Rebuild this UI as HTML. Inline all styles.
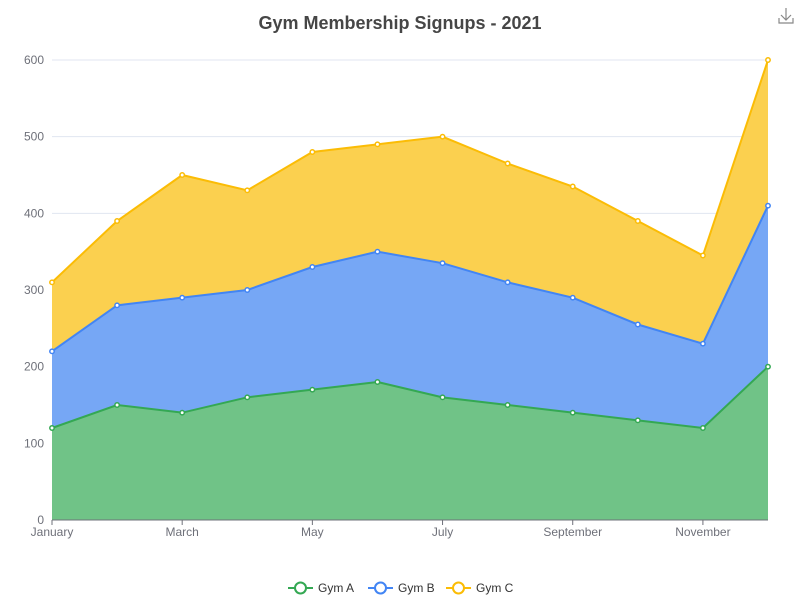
<!DOCTYPE html>
<html><head><meta charset="utf-8"><style>
body{margin:0;background:#fff;font-family:"Liberation Sans",sans-serif;}
</style></head><body>
<svg id="chart" width="800" height="600" xmlns="http://www.w3.org/2000/svg">
<text x="400" y="29" text-anchor="middle" font-size="18" font-weight="bold" fill="#464646">Gym Membership Signups - 2021</text>
<g stroke="#888" fill="none" stroke-width="1.2">
<path d="M786 8 v12 M781 15 l5 5 l5 -5 M779 18 v5 h14 v-5"/>
</g>
<g id="grid"></g><g id="areas"></g><g id="axes"></g><g id="points"></g>
<g id="legend"></g>
</svg>
<script>
const months=["January","February","March","April","May","June","July","August","September","October","November","December"];
const seriesNames=["Gym A","Gym B","Gym C"];
const gymA=[120,150,140,160,170,180,160,150,140,130,120,200];
const gymB=[100,130,150,140,160,170,175,160,150,125,110,210];
const gymC=[90,110,160,130,150,140,165,155,145,135,115,190];
const yTicks=[0,100,200,300,400,500,600];
const NS="http://www.w3.org/2000/svg";
const L=52,R=768,T=60,B=520,YMAX=600;
const x=i=>L+i*(R-L)/(months.length-1);
const y=v=>B-v/YMAX*(B-T);
function mk(tag,attrs,parent){const e=document.createElementNS(NS,tag);for(const k in attrs)e.setAttribute(k,attrs[k]);parent.appendChild(e);return e;}
const grid=document.getElementById('grid'),axes=document.getElementById('axes'),areas=document.getElementById('areas'),pts=document.getElementById('points'),leg=document.getElementById('legend');
yTicks.forEach(t=>{
 if(t>0){const g=mk('line',{x1:L,x2:R,y1:y(t),y2:y(t),stroke:'#e0e6f1'},grid);
 
 }
 const tx=mk('text',{x:L-8,y:y(t)+4,'text-anchor':'end','font-size':12,fill:'#6e7079'},axes);tx.textContent=t;
 
 
});
const ax=mk('line',{x1:L,x2:R,y1:B,y2:B,stroke:'#6e7079'},axes);


months.forEach((m,i)=>{
 if(i%2===0){
 const tk=mk('line',{x1:x(i),x2:x(i),y1:B,y2:B+5,stroke:'#6e7079'},axes);
 
 
 const tx=mk('text',{x:x(i),y:B+16,'text-anchor':'middle','font-size':12,fill:'#6e7079'},axes);tx.textContent=m;
 
 }
});
const data=[gymA,gymB,gymC];
const lines=['#34a853','#4285f4','#fbbc05'];
const fills=['#70c387','#76a7f5','#fbd04f'];
let base=months.map(()=>0);
data.forEach((s,k)=>{
 const top=s.map((v,i)=>base[i]+v);
 let d='M'+top.map((v,i)=>x(i)+','+y(v)).join(' L');
 for(let i=months.length-1;i>=0;i--)d+=' L'+x(i)+','+y(base[i]);
 const a=mk('path',{d:d+'Z',fill:fills[k]},areas);
 
 
 const ln=mk('polyline',{points:top.map((v,i)=>x(i)+','+y(v)).join(' '),fill:'none',stroke:lines[k],'stroke-width':2},pts);
 
 
 top.forEach((v,i)=>{const c=mk('circle',{cx:x(i),cy:y(v),r:2.2,fill:'#fff',stroke:lines[k],'stroke-width':1.5},pts);
 
 });
 base=top;
});
const lx=[288,368,446];
seriesNames.forEach((n,k)=>{
 const g=mk('g',{},leg);
 
 
 mk('line',{x1:lx[k],x2:lx[k]+25,y1:588,y2:588,stroke:lines[k],'stroke-width':2},g);
 mk('circle',{cx:lx[k]+12.5,cy:588,r:5.5,fill:'#fff',stroke:lines[k],'stroke-width':2},g);
 const t=mk('text',{x:lx[k]+30,y:592,'font-size':12,fill:'#333'},g);t.textContent=n;
});
</script>
</body></html>
